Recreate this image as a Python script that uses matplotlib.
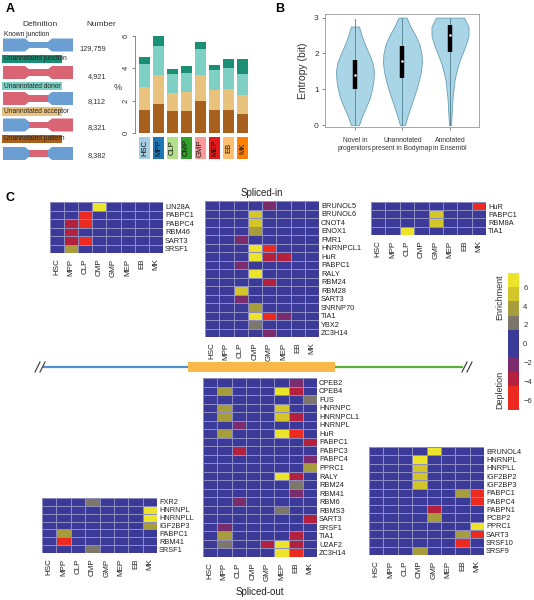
import numpy as np
import matplotlib
matplotlib.use("Agg")
import matplotlib.pyplot as plt
from matplotlib.colors import ListedColormap, BoundaryNorm
from matplotlib.patches import Polygon, Rectangle

plt.rcParams['font.family'] = ['Liberation Sans', 'DejaVu Sans']

W, H = 534, 600
fig = plt.figure(figsize=(W / 100, H / 100), dpi=100)

# ---------------- data ----------------
stages = ["HSC", "MPP", "CLP", "CMP", "GMP", "MEP", "EB", "MK"]
stage_colors = ["#a6cee3", "#1f78b4", "#b2df8a", "#33a02c", "#fb9a99", "#e31a1c", "#fdbf6f", "#ff7f00"]

junction_types = ["Known junction", "Unannotated junction", "Unannotated donor",
                  "Unannotated acceptor", "Unannotated pattern"]
junction_numbers = ["129,759", "4,921", "8,112", "8,321", "8,382"]

pct_pattern = [1.44, 1.81, 1.38, 1.34, 1.98, 1.40, 1.40, 1.15]
pct_acceptor = [1.38, 1.78, 1.09, 1.18, 1.61, 1.28, 1.32, 1.22]
pct_donor = [1.45, 1.77, 1.18, 1.19, 1.63, 1.24, 1.30, 1.30]
pct_junction = [0.43, 0.66, 0.31, 0.45, 0.43, 0.29, 0.56, 0.91]

violin_groups = ["Novel in\nprogenitors", "Unannotated\npresent in Bodymap", "Annotated\nin Ensembl"]
violin_y = [0, 0.25, 0.5, 0.75, 1.0, 1.25, 1.5, 1.75, 2.0, 2.25, 2.5, 2.75, 3.0]
violin_dens1 = [4, 7, 11, 14.7, 17, 18.5, 19, 17.5, 14, 10, 6.7, 4, 0.5]
violin_dens2 = [2.5, 5, 8, 11, 14, 16.5, 18.5, 19.5, 19, 17, 13, 8, 4]
violin_dens3 = [1, 1.5, 2, 2.5, 3.5, 4.5, 6.5, 9, 12.5, 16, 18.5, 18.5, 14]
violin_q1 = [1.0, 1.32, 2.05]
violin_med = [1.4, 1.78, 2.52]
violin_q3 = [1.83, 2.2, 2.78]
violin_lo = [0.0, 0.0, 0.0]
violin_hi = [2.95, 3.0, 3.0]

# heatmap values (enrichment scores; + enrichment, - depletion)
in_left_rows = ["LIN28A", "PABPC1", "PABPC4", "RBM46", "SART3", "SRSF1"]
in_left = [
    [0, 0, 0, 7, 0, 0, 0, 0],
    [0, 0, -6, 0, 0, 0, 0, 0],
    [0, -3.5, -6, 0, 0, 0, 0, 0],
    [0, -4, 0, 0, 0, 0, 0, 0],
    [0, -4, -6, 0, 0, 0, 0, 0],
    [0, 3.5, 0, 0, 0, 0, 0, 0],
]
in_mid_rows = ["BRUNOL5", "BRUNOL6", "CNOT4", "ENOX1", "FMR1", "HNRNPCL1", "HuR", "PABPC1",
               "RALY", "RBM24", "RBM28", "SART3", "SNRNP70", "TIA1", "YBX2", "ZC3H14"]
in_mid = [
    [0, 0, 0, 0, -2, 0, 0, 0],
    [0, 0, 0, 5, 0, 0, 0, 0],
    [0, 0, 0, 5, 0, 0, 0, 0],
    [0, 0, 0, 3.5, 0, 0, 0, 0],
    [0, 0, -2, 0, 0, 0, 0, 0],
    [0, 0, 0, 7, -6, 0, 0, 0],
    [0, 0, 0, 7, -4, -4, 0, 0],
    [0, 0, -2, 0, 0, 0, 0, 0],
    [0, 0, 0, 7, 0, 0, 0, 0],
    [0, 0, 0, 0, -3.5, 0, 0, 0],
    [0, 0, 5, 0, 0, 0, 0, 0],
    [0, 0, -2, 0, 0, 0, 0, 0],
    [0, 0, 0, 3.5, 0, 0, 0, 0],
    [0, 0, 0, 7, -6, -2, 0, 0],
    [0, 0, 0, 2, 0, 0, 0, 0],
    [0, 0, 0, 0, -2, 0, 0, 0],
]
in_right_rows = ["HuR", "PABPC1", "RBM8A", "TIA1"]
in_right = [
    [0, 0, 0, 0, 0, 0, 0, -6],
    [0, 0, 0, 0, 5, 0, 0, 0],
    [0, 0, 0, 0, 5, 0, 0, 0],
    [0, 0, 7, 0, 0, 0, 0, 0],
]
out_left_rows = ["FXR2", "HNRNPL", "HNRNPLL", "IGF2BP3", "PABPC1", "RBM41", "SRSF1"]
out_left = [
    [0, 0, 0, 2, 0, 0, 0, 0],
    [0, 0, 0, 0, 0, 0, 0, 7],
    [0, 0, 0, 0, 0, 0, 0, 7],
    [0, 0, 0, 0, 0, 0, 0, 3.5],
    [0, 3.5, 0, 0, 0, 0, 0, 0],
    [0, -6, 0, 0, 0, 0, 0, 0],
    [0, 0, 0, 2, 0, 0, 0, 0],
]
out_mid_rows = ["CPEB2", "CPEB4", "FUS", "HNRNPC", "HNRNPCL1", "HNRNPL", "HuR", "PABPC1",
                "PABPC3", "PABPC4", "PPRC1", "RALY", "RBM24", "RBM41", "RBM6", "RBMS3",
                "SART3", "SRSF1", "TIA1", "U2AF2", "ZC3H14"]
out_mid = [
    [0, 0, 0, 0, 0, 0, -2, 0],
    [0, 3.5, 0, 0, 0, 7, -4, 0],
    [0, 0, 0, 0, 0, 0, 0, 2],
    [0, 3.5, 0, 0, 0, 5, 0, 0],
    [0, 3.5, 0, 0, 0, 5, -4, 0],
    [0, 0, -2, 0, 0, 0, 0, 0],
    [0, 3.5, 0, 0, 0, 7, -6, 0],
    [0, 0, 0, 0, 0, 0, 0, -4],
    [0, 0, -4, 0, 0, 0, 0, 0],
    [0, 0, 0, 0, 0, 0, 0, -2.5],
    [0, 0, 0, 0, 0, 0, 0, 3.5],
    [0, 0, 0, 0, 0, 7, -4, 0],
    [0, 0, 0, 0, 0, 0, 2, 0],
    [0, 0, 0, 0, 0, 0, -2, 0],
    [0, 0, -2, 0, 0, 0, 0, 0],
    [0, 0, 0, 0, 0, 2, 0, 0],
    [0, 0, 0, 0, 0, 0, 0, -4],
    [0, -2.5, 0, 0, 0, 0, 0, 0],
    [0, 3.5, 0, 0, 0, 0, -4, 0],
    [0, 2, 0, 0, -4, 7, -4, 0],
    [0, 0, 0, 0, 0, 6.5, -6, 0],
]
out_right_rows = ["BRUNOL4", "HNRNPL", "HNRPLL", "IGF2BP2", "IGF2BP3", "PABPC1", "PABPC4",
                  "PABPN1", "PCBP2", "PPRC1", "SART3", "SRSF10", "SRSF9"]
out_right = [
    [0, 0, 0, 0, 7, 0, 0, 0],
    [0, 0, 0, 7, 0, 0, 0, 0],
    [0, 0, 0, 5, 0, 0, 0, 0],
    [0, 0, 0, 5, 0, 0, 0, 0],
    [0, 0, 0, 5, 0, 0, 0, 0],
    [0, 0, 0, 0, 0, 0, 3.5, -6],
    [0, 0, 0, 0, 0, 0, 0, -6],
    [0, 0, 0, 0, -4, 0, 0, 0],
    [0, 0, 0, 0, 3.5, 0, 0, 0],
    [0, 0, 0, 0, 0, 0, 0, 7],
    [0, 0, 0, 0, 0, 0, 3.5, -6],
    [0, 0, 0, 0, 0, 0, -6, 0],
    [0, 0, 0, 3.5, 0, 0, 0, 0],
]

cb_bounds = [-7, -4.5, -3, -1.5, 1.5, 3, 4.5, 6, 7.5]
cb_colors = ["#ec2a20", "#b3213f", "#7a2c6c", "#3b3a98", "#7d776b", "#a89d3c", "#d2c62b", "#ece42a"]
cb_ticks = [-6, -4, -2, 0, 2, 4, 6]

cmap = ListedColormap(cb_colors)
norm = BoundaryNorm(cb_bounds, cmap.N)


def px_axes(x0, y0, x1, y1, **kw):
    return fig.add_axes([x0 / W, 1 - y1 / H, (x1 - x0) / W, (y1 - y0) / H], **kw)


# ---------------- overlay ----------------
ov = px_axes(0, 0, W, H)
ov.set_xlim(0, W)
ov.set_ylim(H, 0)
ov.axis("off")

ov.text(6, 9, "A", fontsize=9, fontweight="bold", va="center")
ov.text(275, 9, "B", fontsize=9, fontweight="bold", va="center")
ov.text(6, 198, "C", fontsize=9, fontweight="bold", va="center")

ov.text(40, 25, "Definition", fontsize=6, ha="center", va="center", color="#333")
ov.text(101, 25, "Number", fontsize=6, ha="center", va="center", color="#333")

BLUE, RED = "#6b9fd3", "#d96474"
label_colors = [None, "#1b8f73", "#7ecfc4", "#e9c27d", "#a8601e"]
shape_colors = [(BLUE, BLUE, BLUE), (RED, RED, RED), (RED, RED, BLUE),
                (BLUE, RED, RED), (BLUE, RED, BLUE)]
shape_centers = [45, 72.5, 98.5, 125, 153.5]
label_centers = [34, 59, 86, 111.5, 139]
number_y = [49, 77, 102, 128, 156]


def gene_shape(yc, cols):
    t, b = yc - 6.5, yc + 6.5
    ti, bi = yc - 3.3, yc + 3.3
    ov.add_patch(Polygon([(3, t), (25, t), (29, ti), (29, bi), (25, b), (3, b)],
                         closed=True, facecolor=cols[0], edgecolor="none"))
    ov.add_patch(Rectangle((29, ti), 19, bi - ti, facecolor=cols[1], edgecolor="none"))
    ov.add_patch(Polygon([(48, ti), (52, t), (73, t), (73, b), (52, b), (48, bi)],
                         closed=True, facecolor=cols[2], edgecolor="none"))


for i, name in enumerate(junction_types):
    gene_shape(shape_centers[i], shape_colors[i])
    ov.text(4, label_centers[i], name, fontsize=4.8, va="center", color="#222")
    if label_colors[i] is not None:
        ov.add_patch(Rectangle((2, label_centers[i] - 4.3), 60, 8.6,
                               facecolor=label_colors[i], edgecolor="none", zorder=0))
    ov.text(106, number_y[i], junction_numbers[i], fontsize=5.3, ha="right", va="center", color="#333")

# Bars panel A
axb = px_axes(135, 32.7, 249.5, 133)
xb = np.arange(len(stages))
seg_list = [pct_pattern, pct_acceptor, pct_donor, pct_junction]
seg_cols = ["#a8601e", "#e9c27d", "#7ecfc4", "#1b8f73"]
bottom = np.zeros(len(stages))
for vals, c in zip(seg_list, seg_cols):
    axb.bar(xb, vals, width=0.79, bottom=bottom, color=c, edgecolor="none")
    bottom = bottom + np.array(vals)
axb.set_xlim(-0.68, 7.5)
axb.set_ylim(0, 6.2)
axb.set_yticks([0, 2, 4, 6])
axb.set_yticklabels(["0", "2", "4", "6"], rotation=90, va="center", fontsize=5.5, color="#333")
axb.tick_params(axis="y", length=2.5, width=0.6, color="#777", pad=1.5)
axb.set_xticks([])
for s in ["top", "right", "bottom"]:
    axb.spines[s].set_visible(False)
axb.spines["left"].set_bounds(0, 6)
axb.spines["left"].set_color("#777")
axb.spines["left"].set_linewidth(0.6)
axb.patch.set_alpha(0)
ov.text(118, 87, "%", fontsize=6.5, ha="center", va="center", color="#333")

axl = px_axes(135, 137, 249.5, 159)
axl.bar(xb, [1] * len(stages), width=0.79, color=stage_colors, edgecolor="none")
for i, s in enumerate(stages):
    axl.text(xb[i], 0.5, s, rotation=90, ha="center", va="center", fontsize=5.5, color="#111")
axl.set_xlim(-0.68, 7.5)
axl.set_ylim(0, 1)
axl.axis("off")

# ---------------- Panel B violins ----------------
axv = px_axes(325, 14, 479, 127)
dens = [violin_dens1, violin_dens2, violin_dens3]
scale = 0.41 / 19.5
vy = np.array(violin_y)
for i in range(3):
    hw = np.array(dens[i]) * scale
    pos = i + 1
    top = violin_hi[i]
    mask = vy <= top + 1e-9
    yy = vy[mask]
    ww = hw[mask]
    axv.fill_betweenx(yy, pos - ww, pos + ww, facecolor="#a9d5e6", edgecolor="#6a9fb5", linewidth=0.6)
    axv.plot([pos, pos], [violin_lo[i], violin_hi[i]], color="#4f7f90", lw=0.6)
    axv.plot([pos, pos], [violin_q1[i], violin_q3[i]], color="black", lw=3.2, solid_capstyle="butt")
    axv.plot([pos], [violin_med[i]], marker="o", ms=1.8, color="white", mec="none")
axv.set_xlim(0.37, 3.61)
axv.set_ylim(-0.05, 3.1)
axv.set_yticks([0, 1, 2, 3])
axv.set_yticklabels(["0", "1", "2", "3"], fontsize=6, color="#333")
axv.set_xticks([1, 2, 3])
axv.set_xticklabels(violin_groups, fontsize=4.9, color="#333", linespacing=1.1)
axv.tick_params(axis="both", length=2.5, width=0.6, color="#777", pad=2)
axv.tick_params(axis="x", pad=5)
axv.set_ylabel("Entropy (bit)", fontsize=7.5, color="#333", labelpad=4)
for s in axv.spines.values():
    s.set_color("#999")
    s.set_linewidth(0.6)

# ---------------- Panel C heatmaps ----------------
def heatmap(x0, y0, x1, y1, rows, vals):
    ax = px_axes(x0, y0, x1, y1)
    arr = np.array(vals, dtype=float)
    ax.pcolormesh(np.arange(9), np.arange(len(rows) + 1), arr, cmap=cmap, norm=norm,
                  edgecolors="#8c8cc0", linewidth=0.45)
    ax.set_xlim(0, 8)
    ax.set_ylim(len(rows), 0)
    ax.yaxis.tick_right()
    ax.set_yticks(np.arange(len(rows)) + 0.5)
    ax.set_yticklabels(rows, fontsize=5.3, color="#222")
    ax.set_xticks(np.arange(8) + 0.5)
    ax.set_xticklabels(stages, rotation=90, fontsize=5.8, color="#222")
    ax.tick_params(length=0, pad=1.5)
    ax.tick_params(axis="x", pad=4)
    for s in ax.spines.values():
        s.set_visible(False)
    return ax


heatmap(50, 202, 163, 253, in_left_rows, in_left)
heatmap(205, 201, 319, 337, in_mid_rows, in_mid)
heatmap(371, 202, 486, 235, in_right_rows, in_right)
heatmap(42, 498, 157, 553, out_left_rows, out_left)
heatmap(203, 378, 317, 557, out_mid_rows, out_mid)
heatmap(369, 447, 484, 555, out_right_rows, out_right)

ov.text(262, 193, "Spliced-in", fontsize=7, ha="center", va="center", color="#222")
ov.text(260, 592, "Spliced-out", fontsize=7, ha="center", va="center", color="#222")

# gene track line
ov.plot([43, 188], [367, 367], color="#4f8fcf", lw=1.6, solid_capstyle="butt")
ov.add_patch(Rectangle((188, 362), 147, 10, facecolor="#fbb84a", edgecolor="none"))
ov.plot([335, 463], [367, 367], color="#5aaf35", lw=1.6, solid_capstyle="butt")
for xm in (40, 467):
    for dx in (-2.5, 2.5):
        ov.plot([xm + dx - 2.5, xm + dx + 2.5], [372, 362], color="#333", lw=0.8)

# colorbar
axc = px_axes(508, 273, 519, 410)
for lo, hi, c in zip(cb_bounds[:-1], cb_bounds[1:], cb_colors):
    axc.add_patch(Rectangle((0, lo), 1, hi - lo, facecolor=c, edgecolor="none"))
axc.set_xlim(0, 1)
axc.set_ylim(cb_bounds[0], cb_bounds[-1])
axc.set_xticks([])
axc.yaxis.tick_right()
axc.set_yticks(cb_ticks)
axc.set_yticklabels([str(t).replace("-", "\u2212") for t in cb_ticks], fontsize=5.5, color="#333")
axc.tick_params(length=0, pad=3)
for s in axc.spines.values():
    s.set_visible(False)
ov.text(500, 297, "Enrichment", rotation=90, fontsize=6.5, ha="center", va="center", color="#333")
ov.text(500, 390, "Depletion", rotation=90, fontsize=6.5, ha="center", va="center", color="#333")

fig.savefig("out.png", dpi=100)
